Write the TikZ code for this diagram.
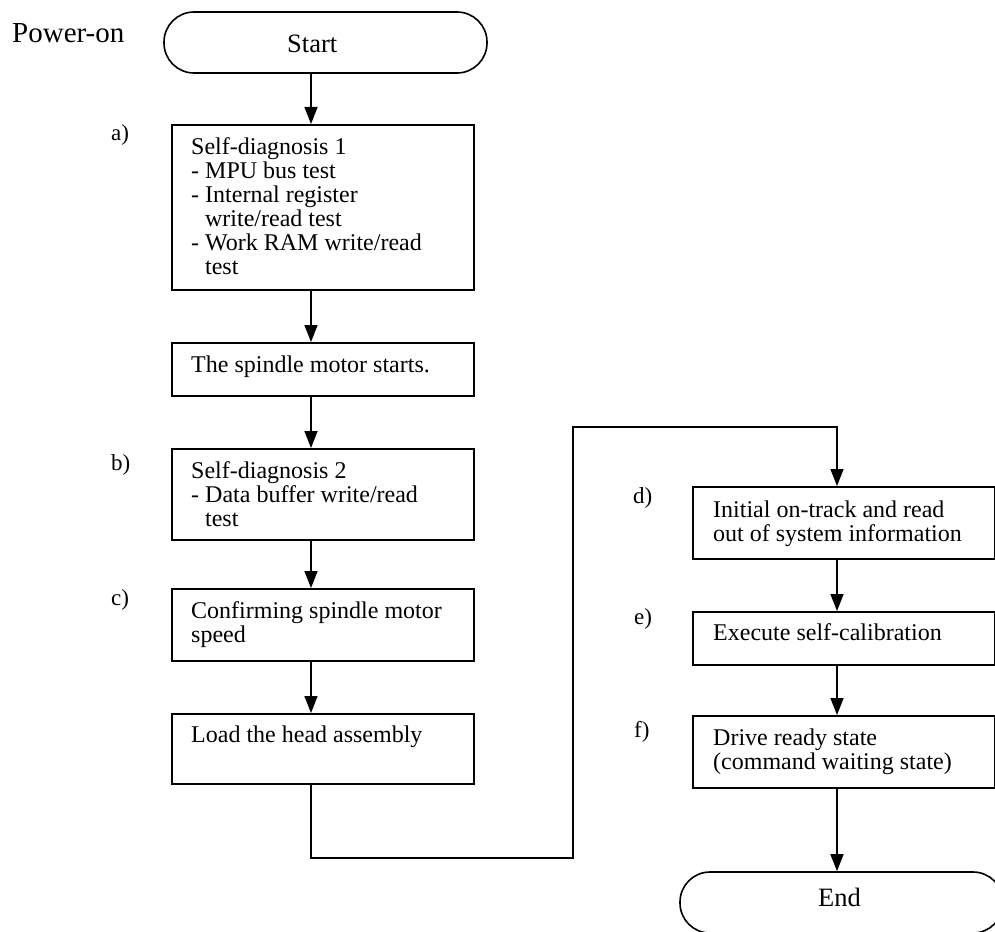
\documentclass[tikz,border=0pt]{standalone}
\usepackage{fontspec}
\setmainfont{Liberation Serif}
\usetikzlibrary{arrows.meta}
\tikzset{
  procbox/.style={draw, line width=1.6pt, anchor=north west, inner sep=0pt, minimum width=302pt},
  termbox/.style={draw, line width=1.6pt, rounded corners=30pt, inner sep=0pt, minimum width=323pt, minimum height=61pt},
  txt/.style={anchor=base west, inner sep=0pt, font=\fontsize{24pt}{24pt}\selectfont},
  lbl/.style={anchor=base west, inner sep=0pt, font=\fontsize{23pt}{24pt}\selectfont},
  arr/.style={line width=1.6pt, -{Triangle[length=17pt,width=13pt]}},
}
\newcommand{\btext}[1]{\parbox[t]{300pt}{\raggedright #1}}
\newcommand{\ind}{\hspace*{0.58em}}
\begin{document}
\begin{tikzpicture}[x=1pt, y=-1pt]
\useasboundingbox (0,0) rectangle (995,931);
% terminals
\node[termbox] (start) at (325.5,42.5) {};
\node[txt, font=\fontsize{26.5pt}{26pt}\selectfont] (starttxt) at (287,53) {Start};
\node[txt, font=\fontsize{29pt}{29pt}\selectfont] (power) at (12,43) {Power-on};
\node[termbox] (end) at (841.5,902.5) {};
\node[txt, font=\fontsize{26.5pt}{26pt}\selectfont] (endtxt) at (818,906) {End};
% left column boxes
\node[procbox, minimum height=165pt] (a) at (171,124) {};
\node[procbox, minimum height=53pt] (spin) at (171,342) {};
\node[procbox, minimum height=91pt] (b) at (171,448) {};
\node[procbox, minimum height=72pt] (c) at (171,588) {};
\node[procbox, minimum height=70pt] (load) at (171,713) {};
% right column boxes
\node[procbox, minimum height=72pt] (d) at (692,486) {};
\node[procbox, minimum height=53pt] (e) at (692,611) {};
\node[procbox, minimum height=72pt] (f) at (692,715) {};
% texts
\node[txt] (atxt) at (191,154) {\btext{Self-diagnosis 1\\- MPU bus test\\- Internal register\\\ind write/read test\\- Work RAM write/read\\\ind test}};
\node[txt] (spintxt) at (191,372) {The spindle motor starts.};
\node[txt] (btxt) at (191,478) {\btext{Self-diagnosis 2\\- Data buffer write/read\\\ind test}};
\node[txt] (ctxt) at (191,618) {\btext{Confirming spindle motor\\speed}};
\node[txt] (loadtxt) at (191,742) {Load the head assembly};
\node[txt] (dtxt) at (713,517) {\btext{Initial on-track and read\\out of system information}};
\node[txt] (etxt) at (713,640) {Execute self-calibration};
\node[txt] (ftxt) at (713,745) {\btext{Drive ready state\\(command waiting state)}};
% step labels
\node[lbl] (la) at (111,140) {a)};
\node[lbl] (lb) at (111,470) {b)};
\node[lbl] (lc) at (111,605) {c)};
\node[lbl] (ld) at (633,503) {d)};
\node[lbl] (le) at (634,624) {e)};
\node[lbl] (lf) at (634,737) {f)};
% connectors
\coordinate (lx) at (311,0);
\coordinate (rx) at (837,0);
\coordinate (j1) at (573,858);
\coordinate (j2) at (573,427);
\draw[arr] (start.south -| lx) -- (a.north -| lx);
\draw[arr] (a.south -| lx) -- (spin.north -| lx);
\draw[arr] (spin.south -| lx) -- (b.north -| lx);
\draw[arr] (b.south -| lx) -- (c.north -| lx);
\draw[arr] (c.south -| lx) -- (load.north -| lx);
\draw[arr] (load.south -| lx) |- (j1) -- (j2) -| (d.north -| rx);
\draw[arr] (d.south -| rx) -- (e.north -| rx);
\draw[arr] (e.south -| rx) -- (f.north -| rx);
\draw[arr] (f.south -| rx) -- (end.north -| rx);
\end{tikzpicture}
\end{document}
